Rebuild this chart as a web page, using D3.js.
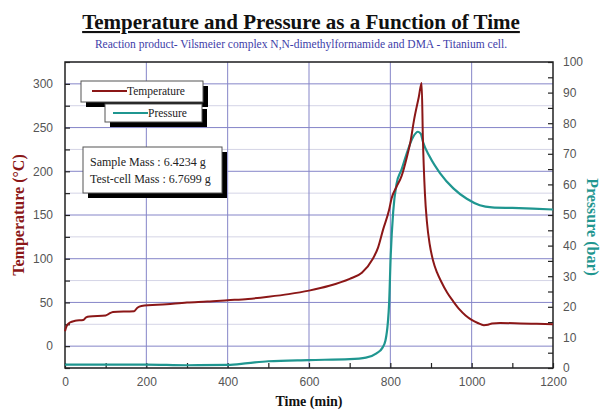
<!DOCTYPE html>
<html>
<head>
<meta charset="utf-8">
<script src="https://cdn.jsdelivr.net/npm/d3@7"></script>
<style>
  html, body { margin: 0; padding: 0; background: #fff; }
  svg { display: block; }
</style>
</head>
<body>
<svg id="chart" width="600" height="412"></svg>
<script>
// Temperature log (°C) against elapsed time (min)
const tempTime = [0, 4, 12, 25, 45, 52, 60, 100, 108, 118, 170, 178, 188, 250, 300, 350, 400, 450, 500, 550, 600, 650, 700, 730, 757, 770, 782, 797, 803, 815, 828, 840, 850, 858, 870, 877, 880, 885, 890, 897, 905, 915, 925, 940, 955, 970, 985, 1000, 1015, 1030, 1040, 1050, 1070, 1120, 1160, 1200];
const tempValues = [17, 23, 27, 29, 30, 33, 34, 35, 37, 39, 40, 44, 46, 48, 50, 51, 52.5, 54, 56.5, 59.5, 63.5, 69, 77, 84, 100, 113, 133, 156, 169, 182, 195, 215, 235, 258, 285, 301, 239, 175, 142, 116, 98, 84, 74, 61, 51, 42, 35, 30, 26.5, 24, 24.5, 26, 26.5, 26, 25.5, 25];

// Pressure log (bar) against elapsed time (min)
const presTime = [0, 100, 200, 300, 400, 450, 500, 600, 700, 740, 766, 780, 788, 794, 797, 801, 807, 815, 828, 840, 856, 868, 875, 880, 897, 922, 955, 988, 1020, 1050, 1100, 1150, 1200];
const presValues = [1.1, 1.1, 1.1, 0.9, 1.0, 1.6, 2.2, 2.6, 2.9, 3.4, 4.8, 6.5, 9, 15, 21, 37, 51, 60, 65, 70, 75.5, 77.2, 76.5, 74, 69, 63.7, 58.7, 55.3, 53.2, 52.5, 52.3, 52.1, 51.8];

// Axis ticks
const timeTicks = [0, 200, 400, 600, 800, 1000, 1200];
const tempTicks = [0, 50, 100, 150, 200, 250, 300];
const presTicks = [0, 10, 20, 30, 40, 50, 60, 70, 80, 90, 100];

const titleText = "Temperature and Pressure as a Function of Time";
const subtitleText = "Reaction product- Vilsmeier complex N,N-dimethylformamide and DMA - Titanium cell.";
const massLines = ["Sample Mass : 6.4234 g", "Test-cell Mass : 6.7699 g"];

const tempColor = "#8b1717";
const presColor = "#1f9690";

const svg = d3.select("#chart");
const m = { left: 65, right: 553, top: 62, bottom: 368 };

const x = d3.scaleLinear().domain([0, 1200]).range([m.left, m.right]);
const yT = d3.scaleLinear().domain([-25, 325]).range([m.bottom, m.top]);
const yP = d3.scaleLinear().domain([0, 100]).range([m.bottom, m.top]);

const serif = "'Liberation Serif', 'Times New Roman', serif";
const sans = "'Liberation Sans', Arial, sans-serif";

// Title
svg.append("text")
  .attr("x", 301).attr("y", 29)
  .attr("text-anchor", "middle")
  .attr("font-family", serif).attr("font-weight", "bold")
  .attr("font-size", 21)
  .attr("text-decoration", "underline")
  .attr("fill", "#111")
  .text(titleText);

svg.append("text")
  .attr("x", 301).attr("y", 48)
  .attr("text-anchor", "middle")
  .attr("font-family", serif)
  .attr("font-size", 11.5)
  .attr("fill", "#3d3da8")
  .text(subtitleText);

// Grid
const grid = svg.append("g");
grid.selectAll(".hminor").data(d3.range(-25, 326, 25).filter(v => v % 50 !== 0))
  .join("line")
  .attr("x1", m.left).attr("x2", m.right)
  .attr("y1", d => yT(d)).attr("y2", d => yT(d))
  .attr("stroke", "#d4d4e6").attr("stroke-width", 1);
grid.selectAll(".hmajor").data(tempTicks)
  .join("line")
  .attr("x1", m.left).attr("x2", m.right)
  .attr("y1", d => yT(d)).attr("y2", d => yT(d))
  .attr("stroke", "#8585c8").attr("stroke-width", 1);
grid.selectAll(".vmajor").data(timeTicks.slice(1, -1))
  .join("line")
  .attr("y1", m.top).attr("y2", m.bottom)
  .attr("x1", d => x(d)).attr("x2", d => x(d))
  .attr("stroke", "#8585c8").attr("stroke-width", 1);

// Axes with inward ticks
const tickStyle = g => {
  g.select(".domain").remove();
  g.selectAll(".tick line").attr("stroke", "#222").attr("stroke-width", 1.2);
  g.selectAll(".tick text").attr("font-family", sans).attr("font-size", 12).attr("fill", "#555");
};

const xMinor = d3.range(0, 1201, 100);
svg.append("g")
  .attr("transform", `translate(0,${m.bottom})`)
  .call(d3.axisBottom(x).tickValues(xMinor).tickSize(-5).tickPadding(9)
        .tickFormat(d => timeTicks.includes(d) ? d : ""))
  .call(tickStyle);

svg.append("g")
  .attr("transform", `translate(${m.left},0)`)
  .call(d3.axisLeft(yT).tickValues(d3.range(-25, 326, 25)).tickSize(-5).tickPadding(12)
        .tickFormat(d => tempTicks.includes(d) ? d : ""))
  .call(tickStyle);

svg.append("g")
  .attr("transform", `translate(${m.right},0)`)
  .call(d3.axisRight(yP).tickValues(d3.range(0, 101, 5)).tickSize(-5).tickPadding(10)
        .tickFormat(d => presTicks.includes(d) ? d : ""))
  .call(tickStyle);

// Frame
svg.append("rect")
  .attr("x", m.left).attr("y", m.top)
  .attr("width", m.right - m.left).attr("height", m.bottom - m.top)
  .attr("fill", "none").attr("stroke", "#222").attr("stroke-width", 1.5);

// Series
const tempLine = d3.line()
  .x((d, i) => x(tempTime[i])).y(d => yT(d))
  .curve(d3.curveMonotoneX);
const presLine = d3.line()
  .x((d, i) => x(presTime[i])).y(d => yP(d))
  .curve(d3.curveMonotoneX);

svg.append("path").datum(presValues)
  .attr("d", presLine)
  .attr("fill", "none").attr("stroke", presColor).attr("stroke-width", 2.2);
svg.append("path").datum(tempValues)
  .attr("d", tempLine)
  .attr("fill", "none").attr("stroke", tempColor).attr("stroke-width", 2);

// Boxes with drop shadow
function shadowBox(bx, by, bw, bh) {
  svg.append("rect").attr("x", bx + 5).attr("y", by + 5)
    .attr("width", bw).attr("height", bh).attr("fill", "#000");
  svg.append("rect").attr("x", bx).attr("y", by)
    .attr("width", bw).attr("height", bh)
    .attr("fill", "#fff").attr("stroke", "#555").attr("stroke-width", 1);
}

shadowBox(81, 81, 122, 21);
svg.append("line").attr("x1", 92).attr("x2", 127).attr("y1", 91).attr("y2", 91)
  .attr("stroke", tempColor).attr("stroke-width", 2);
svg.append("text").attr("x", 127).attr("y", 95)
  .attr("font-family", serif).attr("font-size", 11.5).attr("fill", "#222")
  .text("Temperature");

shadowBox(105, 104, 97, 18);
svg.append("line").attr("x1", 113).attr("x2", 148).attr("y1", 113).attr("y2", 113)
  .attr("stroke", presColor).attr("stroke-width", 2);
svg.append("text").attr("x", 148).attr("y", 117)
  .attr("font-family", serif).attr("font-size", 11.5).attr("fill", "#222")
  .text("Pressure");

shadowBox(83, 147, 139, 46);
svg.selectAll(".mass").data(massLines).join("text")
  .attr("x", 90).attr("y", (d, i) => 166 + i * 17)
  .attr("font-family", serif).attr("font-size", 12).attr("fill", "#222")
  .text(d => d);

// Axis titles
svg.append("text")
  .attr("transform", `translate(24,${(m.top + m.bottom) / 2}) rotate(-90)`)
  .attr("text-anchor", "middle")
  .attr("font-family", serif).attr("font-weight", "bold").attr("font-size", 16)
  .attr("fill", tempColor)
  .text("Temperature (°C)");

svg.append("text")
  .attr("transform", `translate(587,${(m.top + m.bottom) / 2 + 12}) rotate(90)`)
  .attr("text-anchor", "middle")
  .attr("font-family", serif).attr("font-weight", "bold").attr("font-size", 16)
  .attr("fill", presColor)
  .text("Pressure (bar)");

svg.append("text")
  .attr("x", (m.left + m.right) / 2).attr("y", 406)
  .attr("text-anchor", "middle")
  .attr("font-family", serif).attr("font-weight", "bold").attr("font-size", 14)
  .attr("fill", "#111")
  .text("Time (min)");
</script>
</body>
</html>
